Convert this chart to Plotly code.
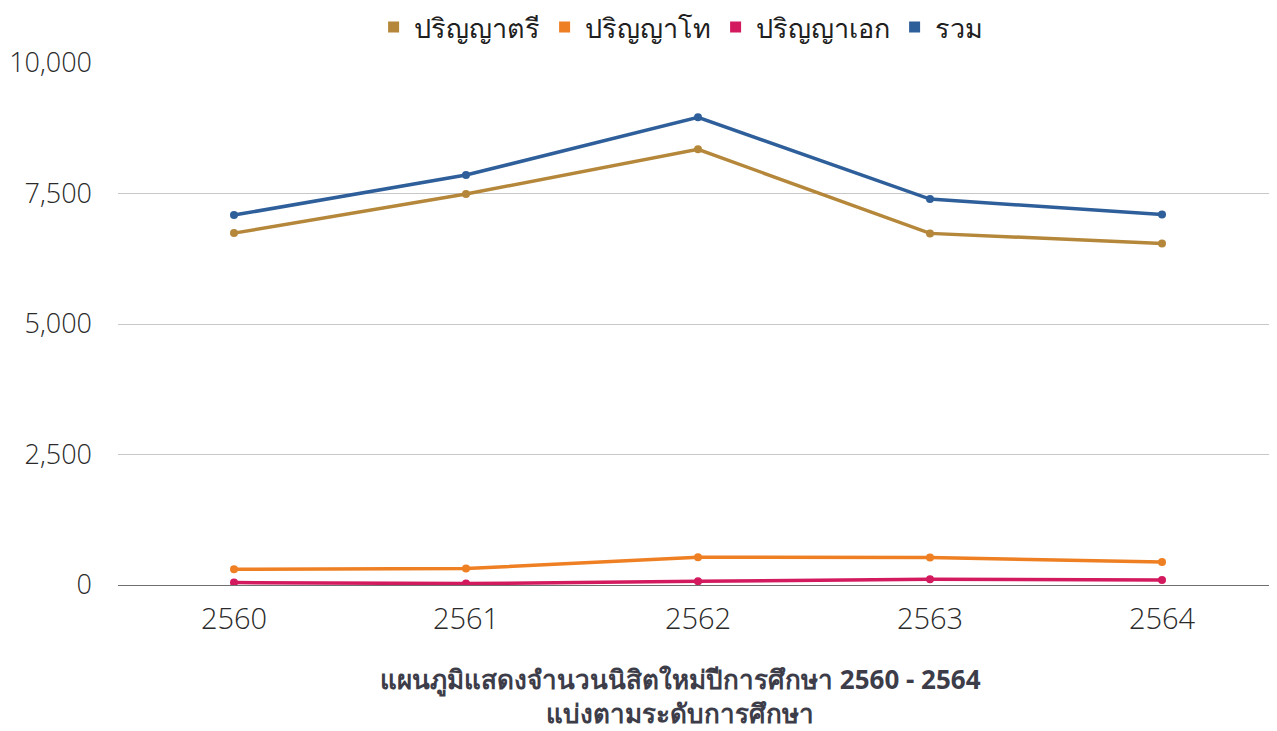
import plotly.graph_objects as go

years = ["2560", "2561", "2562", "2563", "2564"]
bachelor = [6741, 7489, 8346, 6736, 6544]
master = [301, 314, 531, 525, 441]
doctor = [46, 27, 71, 109, 96]
total = [7087, 7853, 8959, 7393, 7100]

series = [
    ("ปริญญาตรี", bachelor, "#B5873A"),
    ("ปริญญาโท", master, "#EE7F22"),
    ("ปริญญาเอก", doctor, "#D41A5F"),
    ("รวม", total, "#2E5F9A"),
]

fig = go.Figure()

for name, values, color in series:
    fig.add_trace(go.Scatter(
        x=years, y=values, mode="lines+markers", name=name,
        line=dict(color=color, width=3.5),
        marker=dict(color=color, size=8),
        showlegend=False,
    ))

# square legend keys
for name, values, color in series:
    fig.add_trace(go.Scatter(
        x=[None], y=[None], mode="markers", name=name,
        marker=dict(color=color, size=11, symbol="square"),
    ))

x_font = dict(family="Open Sans, Noto Sans, sans-serif", size=29, color="#2a2a2a", weight=300)
y_font = dict(family="Open Sans, Noto Sans, sans-serif", size=27, color="#2a2a2a", weight=300)

# the page adds an 8px body margin, so margins are offset by that
fig.update_layout(
    width=1277, height=731,
    margin=dict(l=110, r=7, t=55, b=154, autoexpand=False),
    plot_bgcolor="white", paper_bgcolor="white",
    font=dict(family="Noto Sans, Open Sans, sans-serif", color="#404040"),
    legend=dict(
        orientation="h", x=0.485, xanchor="center", y=1.068, yanchor="middle",
        font=dict(size=27, color="#202020"), itemwidth=30,
        tracegroupgap=0, borderwidth=0,
    ),
    xaxis=dict(
        type="category", range=[-0.5, 4.5], automargin=False,
        showgrid=False, showline=False, ticks="",
        tickfont=x_font, ticklabelstandoff=14,
    ),
    yaxis=dict(
        range=[0, 10000], tickvals=[0, 2500, 5000, 7500, 10000], automargin=False,
        tickformat=",", gridcolor="#c8c8c8", gridwidth=1,
        zeroline=True, zerolinecolor="#707070", zerolinewidth=1,
        tickfont=y_font, ticklabelstandoff=25,
    ),
)

fig.add_annotation(
    text="<b>แผนภูมิแสดงจำนวนนิสิตใหม่ปีการศึกษา 2560 - 2564<br>แบ่งตามระดับการศึกษา</b>",
    xref="paper", yref="paper", x=0.485, y=-0.212, yanchor="middle",
    showarrow=False, font=dict(size=26, color="#3d3d4a"),
)

fig.write_html("out.html")
